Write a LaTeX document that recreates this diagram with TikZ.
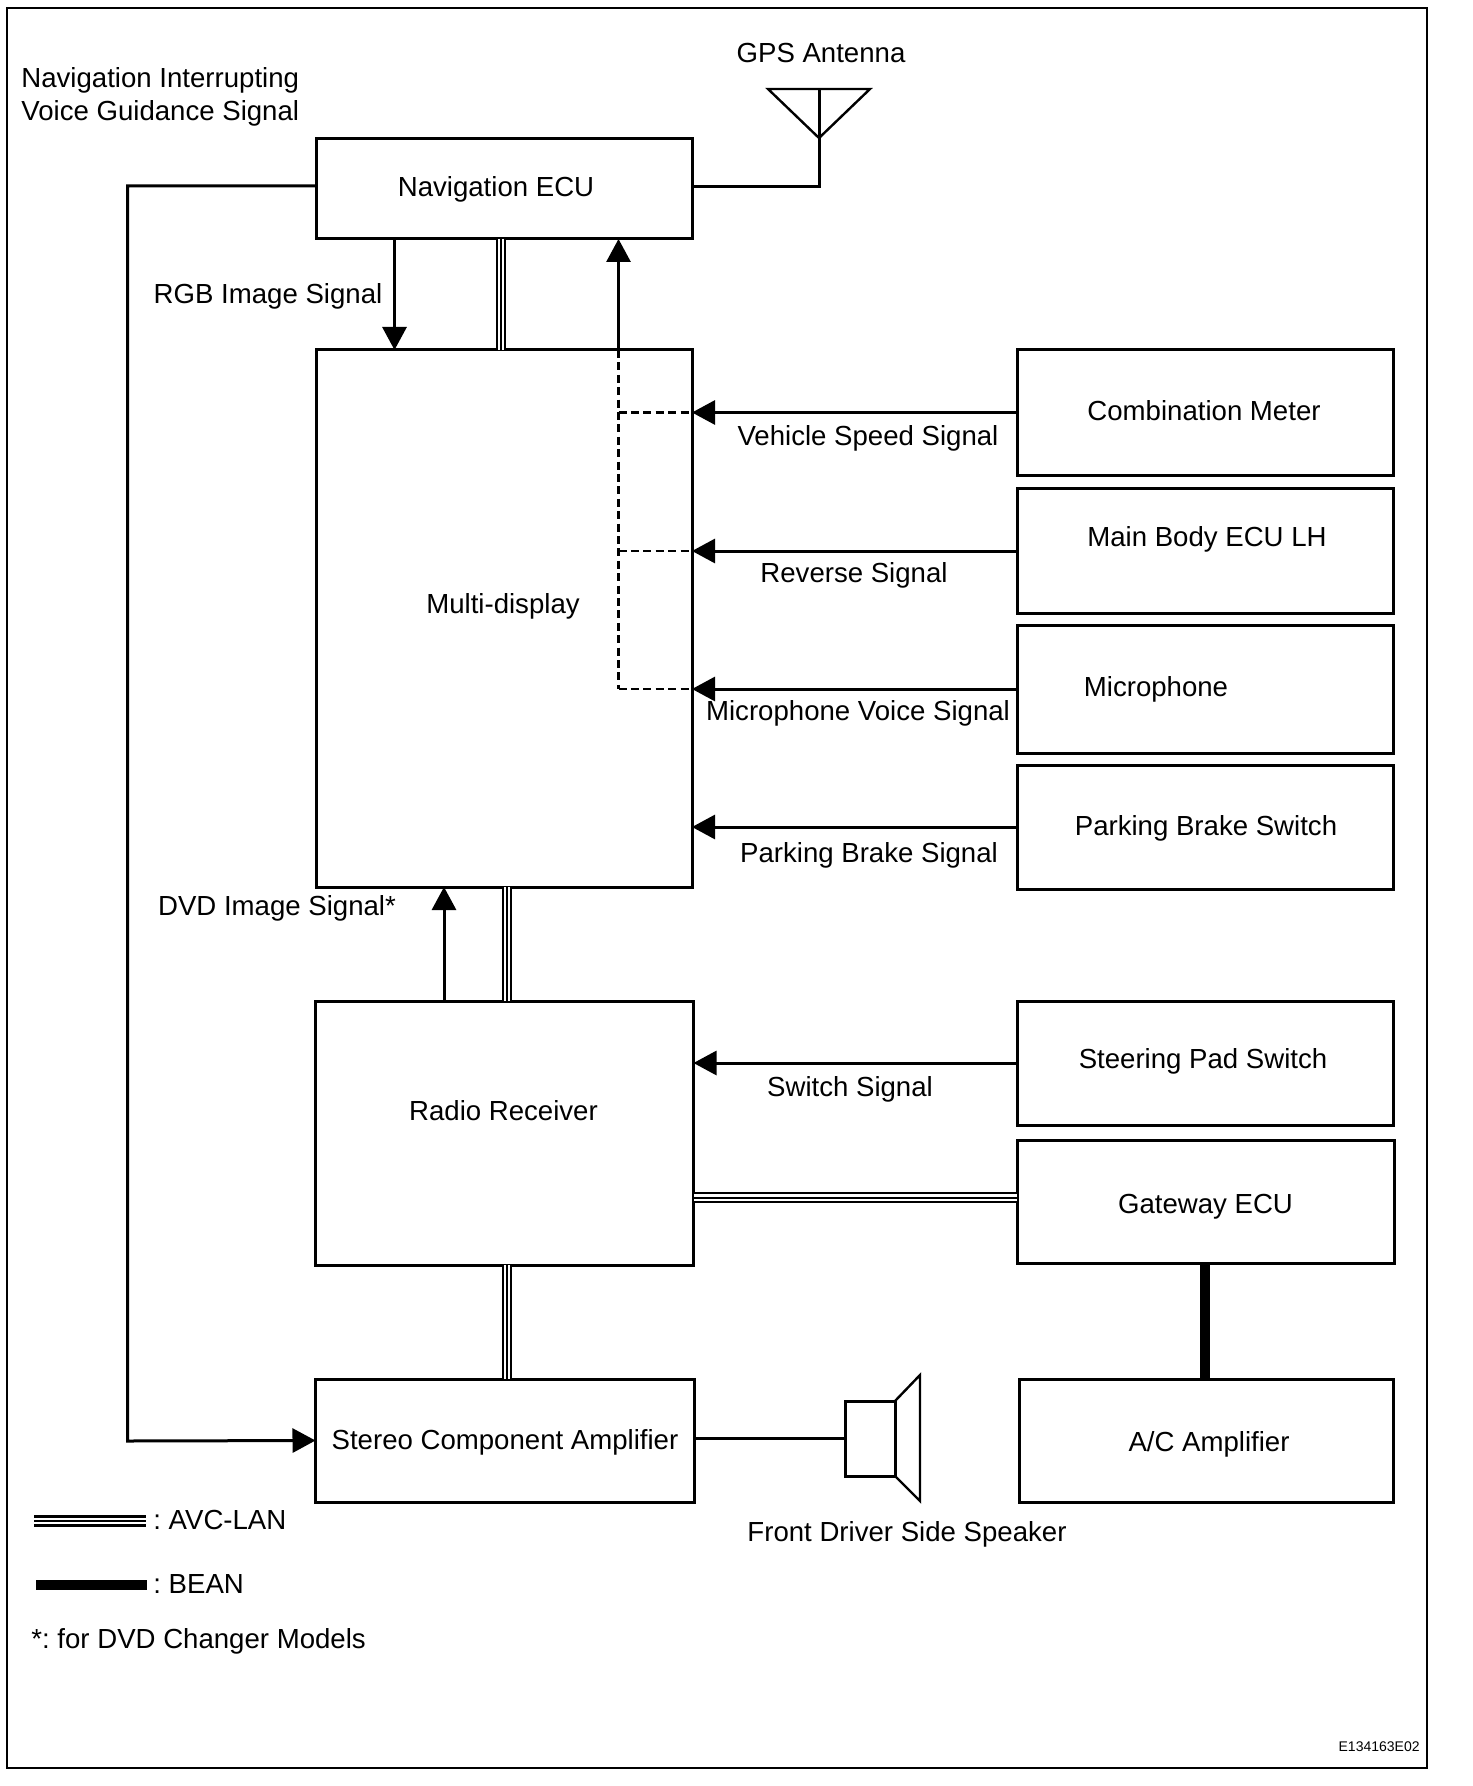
\documentclass[tikz,border=0pt]{standalone}
\usepackage{fontspec}
\setmainfont{Liberation Sans}
\usetikzlibrary{arrows.meta}
\tikzset{
  box/.style={draw,line width=1.5pt,inner sep=0pt,outer sep=0pt},
  wire/.style={line width=1.5pt},
  sigarrow/.style={line width=1.5pt,-{Triangle[length=11.5pt,width=12pt]}},
  dashwire/.style={line width=1.2pt,dash pattern=on 4pt off 2.2pt},
  avclan/.style={line width=1pt,double=white,double distance=3.4pt,postaction={draw,line width=1pt}},
  bean/.style={line width=5pt},
  lab/.style={inner sep=0pt},
}
\begin{document}
\frenchspacing
\begin{tikzpicture}[x=0.5pt,y=-0.5pt,every node/.style={font=\fontsize{13.8}{16}\selectfont}]
  \useasboundingbox (0,0) rectangle (1472,1786);
  \draw[line width=1.3pt] (7,8) rectangle (1427,1768);

  % left column
  \node[box,minimum width=188pt,minimum height=50pt,label={[xshift=-4pt,yshift=0pt]center:Navigation ECU}] (nav) at (504,189) {};
  \node[box,minimum width=188pt,minimum height=268.5pt,label={[xshift=-0.5pt,yshift=6pt]center:Multi-display}] (multi) at (504,618.5) {};
  \node[box,minimum width=189pt,minimum height=132pt,label={[xshift=-0.5pt,yshift=11pt]center:Radio Receiver}] (radio) at (504.5,1133) {};
  \node[box,minimum width=189.5pt,minimum height=61.5pt,label={[yshift=-1pt]center:Stereo Component Amplifier}] (amp) at (505,1440.5) {};

  % right column
  \node[box,minimum width=188pt,minimum height=62.5pt,label={[xshift=-0.5pt,yshift=1pt]center:Combination Meter}] (meter) at (1205,412.5) {};
  \node[box,minimum width=188pt,minimum height=62.5pt,label={[xshift=1pt,yshift=6pt]center:Main Body ECU LH}] (body) at (1205,551) {};
  \node[box,minimum width=188pt,minimum height=64pt,label={[xshift=-24.5pt,yshift=0pt]center:Microphone}] (mic) at (1205,689) {};
  \node[box,minimum width=188pt,minimum height=62pt,label={[xshift=0.5pt,yshift=-0.5pt]center:Parking Brake Switch}] (brake) at (1205,827) {};
  \node[box,minimum width=188pt,minimum height=62pt,label={[xshift=-1pt,yshift=1pt]center:Steering Pad Switch}] (pad) at (1205,1063) {};
  \node[box,minimum width=188.5pt,minimum height=61.5pt,label={[yshift=-2.5pt]center:Gateway ECU}] (gateway) at (1205.5,1201.5) {};
  \node[box,minimum width=187pt,minimum height=61.5pt,label={[xshift=1.5pt,yshift=-2pt]center:A/C Amplifier}] (ac) at (1206,1440.5) {};

  % speaker and antenna
  \node[box,minimum width=25pt,minimum height=37.5pt] (spk) at (870,1438.5) {};
  \coordinate (conetop) at (920,1375);
  \coordinate (conebot) at (920,1501);
  \draw[line width=1.2pt] (spk.north east) -- (conetop) -- (conebot) -- (spk.south east);
  \coordinate (antl) at (768,89);
  \coordinate (antr) at (870,89);
  \coordinate (anttip) at (819,138);
  \coordinate (antmid) at (819,89);
  \draw[line width=1.2pt] (antl) -- (antr) -- (anttip) -- cycle;
  \draw[wire] (antmid) -- (anttip) |- ([yshift=1pt]nav.east);
  \draw[wire] ([yshift=1pt]amp.east) -- (spk.west);

  % signals
  \draw[wire,-{Triangle[length=11.5pt,width=12pt]}] ([yshift=1.5pt]nav.west) -| (127.5,1441) -- (amp.west);
  \draw[sigarrow] (394.5,239) -- (394.5,350);
  \draw[sigarrow] (618.5,350) -- (618.5,239);
  \draw[dashwire] (618.5,350) -- (618.5,689);
  \draw[dashwire] (618.5,412.5) -- (692,412.5);
  \draw[dashwire] (618.5,551) -- (692,551);
  \draw[dashwire] (618.5,689) -- (692,689);
  \draw[sigarrow] (meter.west) -- (meter.west -| multi.east);
  \draw[sigarrow] (body.west) -- (body.west -| multi.east);
  \draw[sigarrow] (mic.west) -- (mic.west -| multi.east);
  \draw[sigarrow] (brake.west) -- (brake.west -| multi.east);
  \draw[sigarrow] (pad.west) -- (pad.west -| radio.east);
  \draw[sigarrow] (444,1001) -- (444,887);

  % buses
  \draw[avclan] (501,239) -- (501,350);
  \draw[avclan] (507,887) -- (507,1001);
  \draw[avclan] (507,1265) -- (507,1379);
  \draw[avclan] ([yshift=2pt]gateway.west) -- ([yshift=2pt]gateway.west -| radio.east);
  \draw[bean] ([xshift=-0.5pt]gateway.south) -- ([xshift=-0.5pt]gateway.south |- ac.north);

  % labels
  \node[lab,anchor=west] (navint) at (21,80) {Navigation Interrupting};
  \node[lab,anchor=west] (voice) at (21,113) {Voice Guidance Signal};
  \node[lab] (gps) at (821,53) {GPS Antenna};
  \node[lab] (rgb) at (268,296) {RGB Image Signal};
  \node[lab] (vss) at (868,438) {Vehicle Speed Signal};
  \node[lab] (rev) at (854,575) {Reverse Signal};
  \node[lab] (micv) at (858,713) {Microphone Voice Signal};
  \node[lab] (pbs) at (869,855) {Parking Brake Signal};
  \node[lab] (dvd) at (277,908) {DVD Image Signal*};
  \node[lab] (swi) at (850,1089) {Switch Signal};
  \node[lab] (front) at (907,1534) {Front Driver Side Speaker};

  % legend
  \coordinate (avca) at (34,1521);
  \coordinate (avcb) at (146,1521);
  \coordinate (beana) at (36,1585);
  \coordinate (beanb) at (147,1585);
  \draw[avclan,line width=1.3pt,double distance=3pt] (avca) -- (avcb);
  \draw[bean] (beana) -- (beanb);
  \node[lab,anchor=west] (avctxt) at (153,1520) {: AVC-LAN};
  \node[lab,anchor=west] (beantxt) at (153,1584) {: BEAN};
  \node[lab,anchor=west] (dvdnote) at (31,1641) {*: for DVD Changer Models};
  \node[lab,anchor=east,font=\fontsize{7}{8}\selectfont] (code) at (1420,1747) {E134163E02};
\end{tikzpicture}
\end{document}
